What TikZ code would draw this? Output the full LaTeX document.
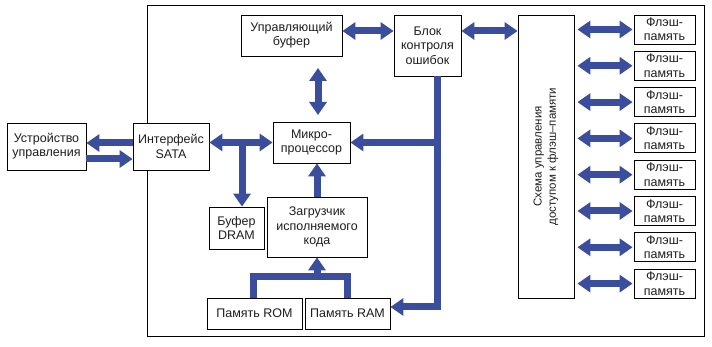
\documentclass[tikz,border=0pt]{standalone}
\usepackage{fontspec}
\setmainfont{Liberation Sans}
\usetikzlibrary{arrows.meta}
\definecolor{busblue}{RGB}{59,78,158}
\definecolor{txt}{RGB}{30,30,30}
\tikzset{
  box/.style={draw=black, line width=0.8pt, fill=white, align=center, inner sep=1pt,
    text=txt, font=\fontsize{12.5}{14.3}\selectfont},
  bus/.style={draw=busblue, line width=7pt},
  arr/.style={bus, -{Triangle[width=17pt,length=13pt]}},
  darr/.style={bus, {Triangle[width=17pt,length=13pt]}-{Triangle[width=17pt,length=13pt]}},
}
\begin{document}
\begin{tikzpicture}[x=1pt,y=-1pt]
\path[use as bounding box] (0,0) rectangle (712,347);
% outer frame
\draw[line width=0.8pt] (147,5) rectangle (704,336);
% nodes
\node[box, minimum width=79pt, minimum height=47pt] (dev) at (46.5,146.5) {Устройство\\управления};
\node[box, minimum width=76pt, minimum height=47pt] (sata) at (171,146.5) {Интерфейс\\SATA};
\node[box, minimum width=101pt, minimum height=41pt] (cbuf) at (291.5,35.5) {Управляющий\\буфер};
\node[box, minimum width=67pt, minimum height=61pt] (ecc) at (427.5,45.5) {Блок\\контроля\\ошибок};
\node[box, minimum width=77pt, minimum height=41pt] (mcu) at (311.5,142.5) {Микро-\\процессор};
\node[box, minimum width=55pt, minimum height=42pt] (dram) at (236.5,228) {Буфер\\DRAM};
\node[box, minimum width=100pt, minimum height=60pt] (boot) at (317,227) {Загрузчик\\исполняемого\\кода};
\node[box, minimum width=95pt, minimum height=31pt] (rom) at (254.5,313.5) {Память ROM};
\node[box, minimum width=85pt, minimum height=31pt] (ram) at (347.5,313.5) {Память RAM};
\node[box, minimum width=56pt, minimum height=283pt] (fc) at (546,156.5) {};
\node[text=txt, font=\fontsize{11.5}{14.3}\selectfont, align=center, rotate=90] (fctext) at (fc.center) {Схема управления\\доступом к флэш–памяти};
\foreach \i in {0,...,7}{
  \node[box, minimum width=61pt, minimum height=29pt] (f\i) at (664.5,{29.5+36.3*\i}) {Флэш-\\память};
  \draw[darr, shorten <=3pt, shorten >=1pt] (fc.east |- f\i.west) -- (f\i.west);
}
% helper coordinates
\coordinate (y31) at (0,31);
\coordinate (jd) at (242,142.5);
\coordinate (va) at (318,68);
\coordinate (vb) at (318,115);
\coordinate (r1) at (253,277);
\coordinate (r2) at (347,277);
\coordinate (c1) at (437,307);
% connectors
\draw[arr] ([yshift=3.5pt]sata.west) -- ([yshift=3.5pt]sata.west -| dev.east);
\draw[arr] ([yshift=-12.5pt]dev.east) -- ([yshift=-12.5pt]dev.east -| sata.west);
\draw[darr] (sata.east |- mcu.west) -- (mcu.west);
\draw[arr] (jd) -- (jd |- dram.north);
\draw[darr] (cbuf.east |- y31) -- (ecc.west |- y31);
\draw[darr] (ecc.east |- y31) -- (fc.west |- y31);
\draw[darr] (va) -- (vb);
\draw[arr] (boot.north) -- (boot.north |- mcu.south);
\draw[bus, line join=miter] (rom.north -| r1) -- (r1) -- (r2) -- (ram.north -| r2);
\draw[arr] (boot.south |- r1) -- (boot.south);
\draw[arr, line join=miter] (ecc.south -| c1) -- (c1) -- (ram.east |- c1);
\draw[arr] (c1 |- mcu.east) -- (mcu.east);
\end{tikzpicture}
\end{document}
